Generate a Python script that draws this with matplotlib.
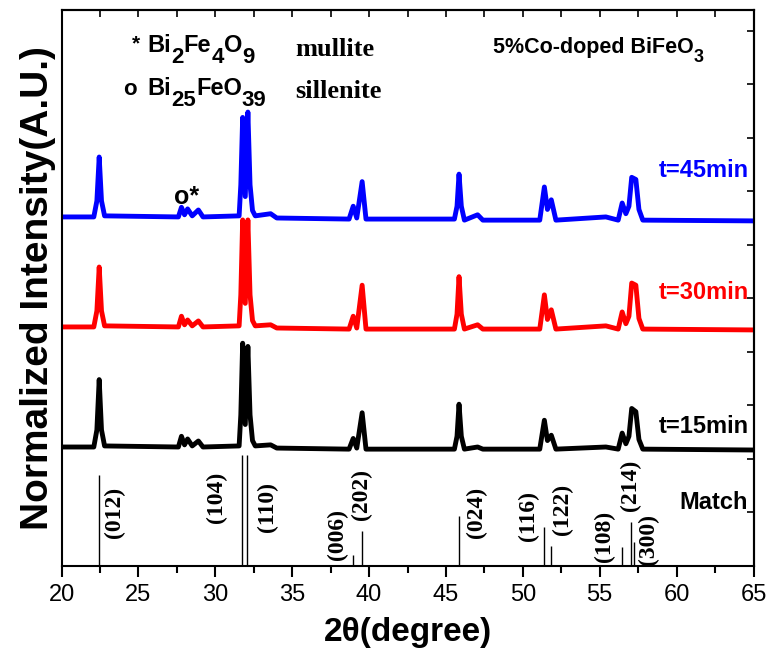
import matplotlib
matplotlib.use('Agg')
import matplotlib.pyplot as plt
from matplotlib.ticker import MultipleLocator, NullFormatter
from matplotlib.transforms import offset_copy

plt.rcParams['font.family'] = ['Liberation Sans', 'DejaVu Sans']

# 2theta sample points shared by the three scans
two_theta = [20.0, 22.1, 22.3, 22.45, 22.6, 22.8, 27.6, 27.8, 28.0, 28.2, 28.5, 28.9, 29.2,
             31.55, 31.66, 31.78, 31.95, 32.12, 32.26, 32.42, 32.6, 33.6, 34.0,
             38.7, 38.97, 39.2, 39.55, 39.8, 45.55, 45.72, 45.85, 46.0, 46.2, 47.06, 47.4,
             51.1, 51.4, 51.6, 51.85, 52.15, 55.4, 56.2, 56.46, 56.7, 56.9, 57.08, 57.35,
             57.55, 57.8, 65.0]

# normalized intensities
int_15min = [0.0, 0.0, 0.16, 0.63, 0.16, 0.01, 0.0, 0.10, 0.02, 0.075, 0.01, 0.056, 0.0,
             0.01, 0.3, 0.97, 0.21, 0.94, 0.3, 0.06, 0.01, 0.02, -0.01,
             -0.02, 0.08, -0.01, 0.32, -0.02, -0.02, 0.1, 0.40, 0.1, -0.02, 0.0, -0.02,
             -0.02, 0.25, 0.06, 0.11, -0.02, 0.0, -0.02, 0.13, 0.03, 0.1, 0.36, 0.33,
             0.07, -0.02, -0.028]
int_30min = [0.0, 0.0, 0.15, 0.56, 0.15, 0.01, 0.0, 0.10, 0.02, 0.065, 0.01, 0.056, 0.0,
             0.01, 0.3, 1.0, 0.22, 1.0, 0.3, 0.06, 0.01, 0.02, -0.01,
             -0.02, 0.10, -0.01, 0.39, -0.02, -0.02, 0.12, 0.47, 0.12, -0.02, 0.02, -0.02,
             -0.02, 0.30, 0.07, 0.16, -0.02, 0.01, -0.02, 0.14, 0.03, 0.1, 0.41, 0.39,
             0.08, -0.02, -0.028]
int_45min = [0.0, 0.0, 0.15, 0.56, 0.15, 0.01, 0.0, 0.09, 0.02, 0.075, 0.01, 0.065, 0.0,
             0.01, 0.3, 0.93, 0.19, 0.98, 0.3, 0.06, 0.01, 0.03, -0.01,
             -0.02, 0.10, -0.01, 0.33, -0.02, -0.02, 0.1, 0.40, 0.1, -0.03, 0.02, -0.03,
             -0.03, 0.28, 0.07, 0.16, -0.03, 0.0, -0.03, 0.13, 0.03, 0.1, 0.37, 0.35,
             0.07, -0.03, -0.037]

scan_labels = ['t=15min', 't=30min', 't=45min']
scan_colors = ['black', 'red', 'blue']

# standard BiFeO3 reflections
hkl = ['(012)', '(104)', '(110)', '(006)', '(202)', '(024)', '(116)', '(122)', '(108)', '(214)', '(300)']
ref_pos = [22.41, 31.76, 32.04, 38.97, 39.51, 45.83, 51.38, 51.81, 56.44, 57.05, 57.26]
ref_height = [0.85, 1.04, 1.04, 0.10, 0.33, 0.47, 0.36, 0.19, 0.18, 0.41, 0.22]

fig = plt.figure(figsize=(7.67, 6.56), dpi=100)
ax = fig.add_axes([0.0802, 0.1372, 0.9022, 0.8476])
ax.set_xlim(20, 65)
ax.set_ylim(0, 5.196)


def formula(x, y, pieces, size, sub_size, drop):
    # write text pieces one after another, subscripts lowered by `drop` points
    r = fig.canvas.get_renderer()
    dx = 0.0
    for s, sub in pieces:
        tr = offset_copy(ax.transData, fig=fig, x=dx, y=-drop if sub else 0, units='points')
        t = ax.text(x, y, s, transform=tr, fontsize=sub_size if sub else size,
                    fontweight='bold', ha='left', va='baseline')
        dx += t.get_window_extent(renderer=r).width * 72.0 / fig.dpi


offsets = [1.112, 2.234, 3.262]
for ys, off, c in zip([int_15min, int_30min, int_45min], offsets, scan_colors):
    ax.plot(two_theta, [v + off for v in ys], color=c, lw=3.5, solid_joinstyle='round')

ax.vlines(ref_pos, 0, ref_height, color='black', lw=1)

# hkl labels beside the sticks
lab_xy = [(23.45, 0.50), (30.07, 0.64), (33.41, 0.55), (37.97, 0.29), (39.5, 0.67),
          (47.0, 0.50), (50.34, 0.47), (52.6, 0.53), (55.3, 0.28), (57.0, 0.75), (58.15, 0.25)]
for t, (lx, ly) in zip(hkl, lab_xy):
    ax.text(lx, ly, t, rotation=90, ha='center', va='center', fontsize=17,
            fontweight='bold', family='Liberation Serif')

ax.text(62.4, 0.59, 'Match', ha='center', va='center', fontsize=17, fontweight='bold')
for t, c, ly in zip(scan_labels, scan_colors, [1.30, 2.56, 3.70]):
    ax.text(64.7, ly, t, ha='right', va='center', fontsize=17, fontweight='bold', color=c)

ax.text(25.08, 4.83, '*', ha='right', va='baseline', fontsize=15, fontweight='bold')
ax.text(24.9, 4.40, 'o', ha='right', va='baseline', fontsize=16, fontweight='bold')
formula(25.6, 4.80, [('Bi', 0), ('2', 1), ('Fe', 0), ('4', 1), ('O', 0), ('9', 1)], 17, 16, 8)
formula(25.6, 4.40, [('Bi', 0), ('25', 1), ('FeO', 0), ('39', 1)], 17, 16, 8)
ax.text(35.2, 4.77, 'mullite', ha='left', va='baseline', fontsize=19, fontweight='bold',
        family='Liberation Serif')
ax.text(35.2, 4.37, 'sillenite', ha='left', va='baseline', fontsize=19, fontweight='bold',
        family='Liberation Serif')
formula(48.06, 4.79, [('5%Co-doped BiFeO', 0), ('3', 1)], 15.5, 13, 6)
ax.text(28.1, 3.45, 'o*', ha='center', va='center', fontsize=18, fontweight='bold')

ax.xaxis.set_major_locator(MultipleLocator(5))
ax.xaxis.set_minor_locator(MultipleLocator(2.5))
ax.tick_params(axis='x', which='major', direction='out', length=8, width=1.5, labelsize=17, pad=5)
ax.tick_params(axis='x', which='minor', direction='out', length=5, width=1.5)
ax.set_yticks([])

top = ax.secondary_xaxis('top')
top.xaxis.set_major_locator(MultipleLocator(2.5))
top.xaxis.set_major_formatter(NullFormatter())
top.tick_params(direction='in', length=5, width=1.2)

right = ax.secondary_yaxis('right')
right.yaxis.set_major_locator(MultipleLocator(0.5))
right.yaxis.set_major_formatter(NullFormatter())
right.tick_params(direction='in', length=5, width=1.2)

for sp in list(ax.spines.values()) + [top.spines['top'], right.spines['right']]:
    sp.set_linewidth(1.5)

ax.set_xlabel('2θ(degree)', fontsize=24, fontweight='bold', labelpad=8)
ax.set_ylabel('Normalized Intensity(A.U.)', fontsize=28, fontweight='bold', labelpad=4)

fig.savefig('out.png', dpi=100)
